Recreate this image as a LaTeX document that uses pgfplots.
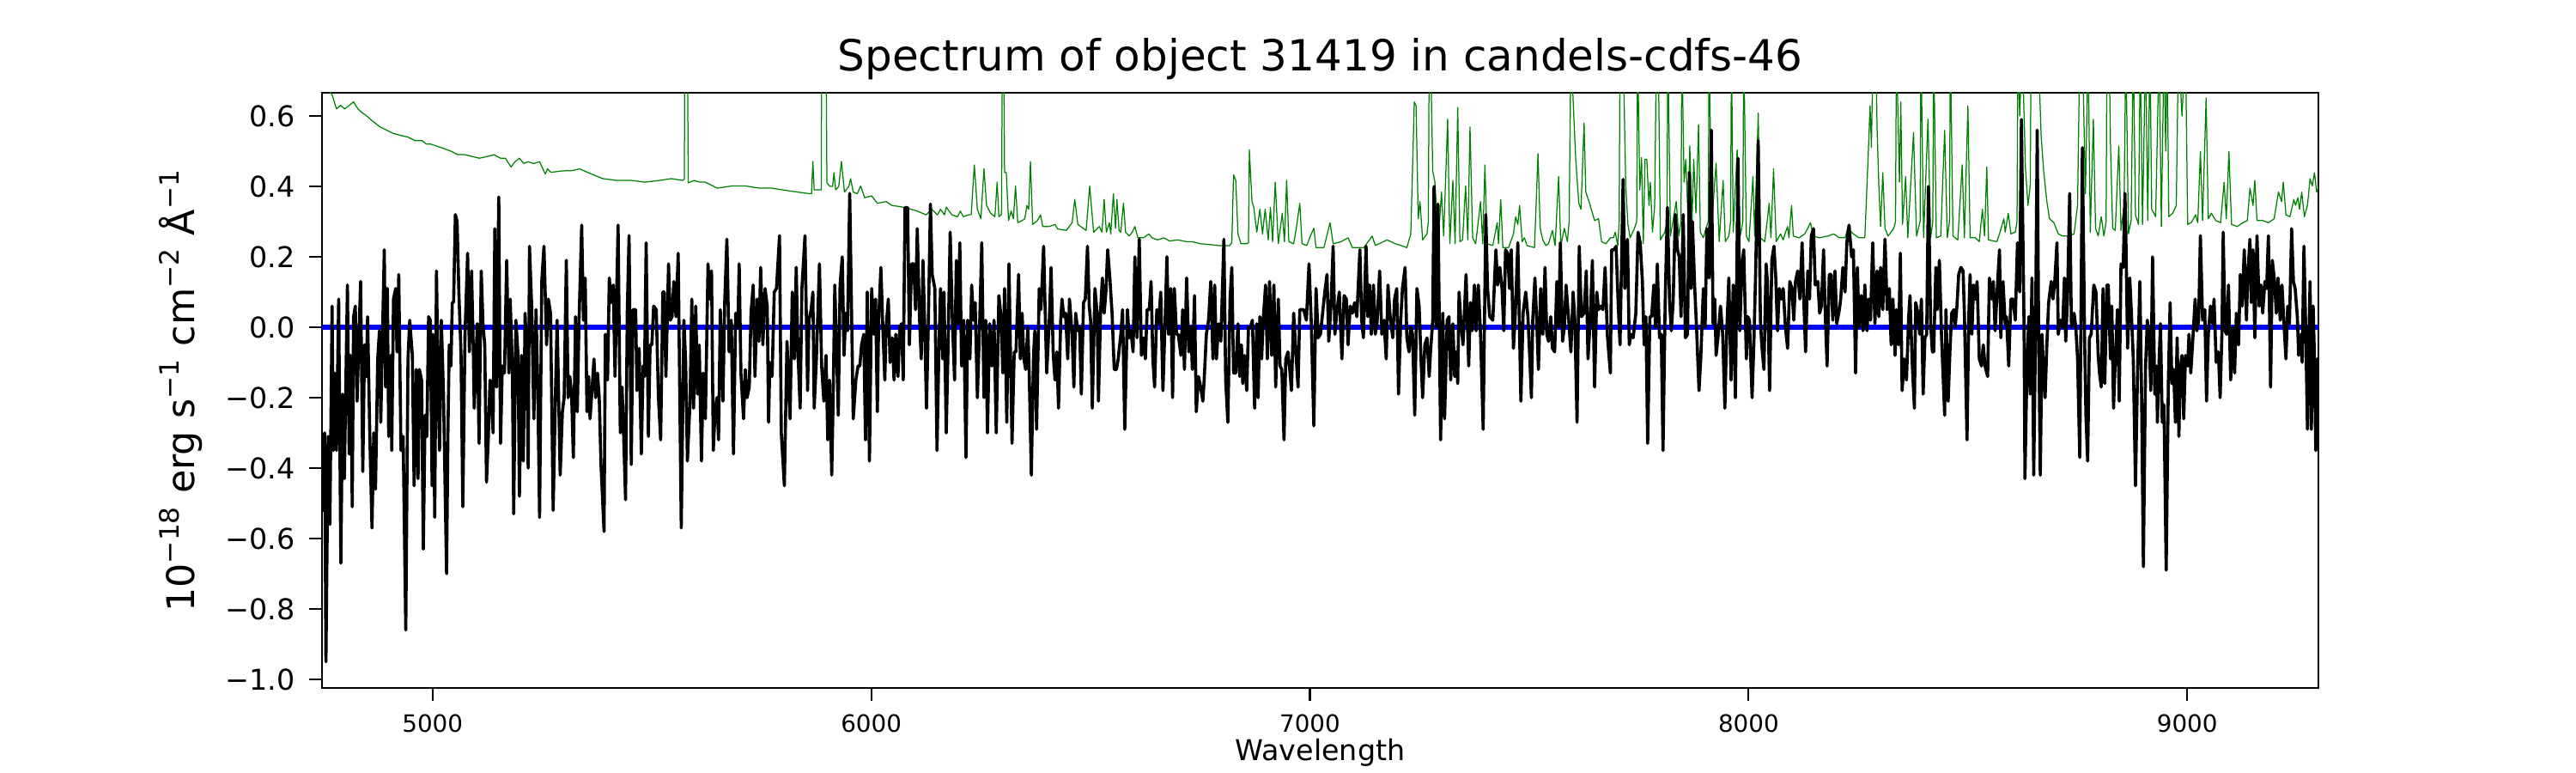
\documentclass[border=0pt]{standalone}
\usepackage{fontspec}
\setmainfont{DejaVu Sans}
\usepackage{pgfplots}
\pgfplotsset{compat=1.18}
\definecolor{mplgreen}{rgb}{0,0.5,0}
\begin{document}
\begin{tikzpicture}
\path[use as bounding box] (-135pt,-35.64pt) rectangle (945pt,288.36pt);
\begin{axis}[
 at={(0,0)}, anchor=south west,
 scale only axis, width=837pt, height=249.48pt,
 xmin=4748, xmax=9299, ymin=-1.0244, ymax=0.6659,
 axis line style={line width=0.8pt},
 tick align=outside, major tick length=5.3pt,
 xtick pos=lower, ytick pos=left,
 tick style={black, line width=0.8pt},
 xtick={5000,6000,7000,8000,9000},
 xticklabels={5000,6000,7000,8000,9000},
 ytick={-1,-0.8,-0.6,-0.4,-0.2,0,0.2,0.4,0.6},
 yticklabels={−1.0,−0.8,−0.6,−0.4,−0.2,0.0,0.2,0.4,0.6},
 xticklabel style={font=\fontsize{10}{12}\selectfont, anchor=base, inner sep=0pt, yshift=-13.1pt},
 yticklabel style={font=\fontsize{12}{14}\selectfont, anchor=east, inner sep=0pt, xshift=-5.9pt},
 every axis title/.style={at={(0.5,1)}, anchor=base, yshift=9pt, font=\fontsize{18}{22}\selectfont},
 every axis x label/.style={at={(axis description cs:0.5,0)}, anchor=base, yshift=-30.6pt, font=\fontsize{12}{14}\selectfont},
 every axis y label/.style={at={(axis description cs:-0.064,0.5)}, rotate=90, anchor=base, font=\fontsize{16}{19}\selectfont},
 title={Spectrum of object 31419 in candels-cdfs-46},
 xlabel={Wavelength},
 ylabel={10\textsuperscript{−18} erg s\textsuperscript{−1} cm\textsuperscript{−2} Å\textsuperscript{−1}},
]
% sky / noise spectrum (green)
\addplot[mplgreen, line width=0.45pt, line join=round] coordinates {
(4748,0.70)(4771,0.66)(4781,0.62)(4790,0.63)(4800,0.62)(4810,0.63)(4820,0.64)(4830,0.62)(4839,0.61)(4850,0.60)(4859,0.59)(4869,0.58)(4879,0.57)(4895,0.56)(4911,0.55)(4927,0.545)(4944,0.54)(4960,0.53)(4976,0.53)(4986,0.52)(4996,0.52)(5020,0.51)(5042,0.50)(5058,0.49)(5074,0.49)(5090,0.485)(5107,0.48)(5125,0.485)(5140,0.49)(5155,0.48)(5166,0.48)(5179,0.455)(5188,0.47)(5198,0.48)(5208,0.465)(5218,0.47)(5230,0.465)(5244,0.47)(5257,0.435)(5262,0.45)(5270,0.44)(5296,0.444)(5320,0.445)(5335,0.45)(5355,0.439)(5388,0.422)(5420,0.417)(5453,0.417)(5485,0.412)(5518,0.417)(5544,0.422)(5570,0.417)(5574,0.42)(5575,0.80)(5581,0.80)(5583,0.41)(5587,0.412)(5596,0.417)(5609,0.412)(5622,0.412)(5649,0.395)(5681,0.401)(5714,0.401)(5746,0.395)(5773,0.395)(5799,0.390)(5831,0.384)(5861,0.379)(5864,0.38)(5867,0.471)(5870,0.39)(5874,0.39)(5883,0.39)(5886,0.39)(5887,0.80)(5897,0.80)(5899,0.41)(5906,0.40)(5912,0.40)(5915,0.439)(5919,0.39)(5926,0.40)(5932,0.471)(5939,0.384)(5949,0.40)(5953,0.422)(5959,0.384)(5968,0.379)(5976,0.401)(5985,0.368)(6001,0.373)(6014,0.352)(6034,0.357)(6047,0.346)(6073,0.341)(6105,0.330)(6125,0.319)(6138,0.335)(6151,0.319)(6158,0.335)(6167,0.319)(6171,0.341)(6184,0.319)(6197,0.314)(6203,0.330)(6210,0.314)(6221,0.319)(6228,0.32)(6235,0.461)(6242,0.335)(6250,0.308)(6257,0.450)(6263,0.346)(6272,0.324)(6282,0.314)(6287,0.412)(6291,0.314)(6297,0.32)(6299,0.80)(6302,0.80)(6304,0.439)(6308,0.439)(6313,0.303)(6319,0.330)(6324,0.308)(6329,0.401)(6334,0.297)(6344,0.303)(6350,0.308)(6355,0.346)(6359,0.335)(6363,0.471)(6368,0.292)(6379,0.303)(6386,0.319)(6391,0.286)(6406,0.286)(6419,0.292)(6425,0.279)(6445,0.275)(6458,0.297)(6464,0.363)(6471,0.292)(6490,0.275)(6498,0.401)(6507,0.270)(6520,0.286)(6526,0.270)(6531,0.363)(6536,0.270)(6543,0.297)(6546,0.265)(6552,0.379)(6557,0.281)(6560,0.363)(6565,0.275)(6569,0.270)(6575,0.352)(6580,0.270)(6588,0.259)(6595,0.270)(6601,0.286)(6608,0.254)(6621,0.254)(6633,0.265)(6640,0.254)(6653,0.248)(6667,0.254)(6680,0.245)(6699,0.248)(6719,0.243)(6732,0.243)(6751,0.237)(6771,0.235)(6791,0.232)(6797,0.232)(6817,0.232)(6822,0.24)(6826,0.433)(6831,0.417)(6836,0.265)(6843,0.237)(6856,0.237)(6860,0.24)(6862,0.504)(6868,0.357)(6872,0.341)(6879,0.270)(6886,0.335)(6892,0.265)(6898,0.335)(6905,0.248)(6910,0.341)(6915,0.243)(6921,0.412)(6928,0.237)(6937,0.324)(6942,0.243)(6947,0.417)(6952,0.243)(6963,0.237)(6969,0.281)(6977,0.352)(6982,0.237)(6993,0.232)(7001,0.259)(7009,0.281)(7014,0.226)(7032,0.226)(7046,0.297)(7053,0.237)(7071,0.243)(7087,0.254)(7097,0.226)(7123,0.226)(7142,0.259)(7149,0.232)(7176,0.248)(7195,0.237)(7208,0.232)(7221,0.226)(7230,0.265)(7238,0.640)(7242,0.629)(7247,0.308)(7251,0.357)(7257,0.248)(7267,0.265)(7270,0.30)(7272,0.80)(7275,0.80)(7280,0.444)(7285,0.412)(7292,0.259)(7296,0.308)(7300,0.384)(7305,0.259)(7314,0.591)(7319,0.237)(7326,0.417)(7331,0.237)(7337,0.624)(7342,0.243)(7348,0.248)(7355,0.401)(7360,0.248)(7365,0.569)(7371,0.254)(7378,0.237)(7389,0.357)(7394,0.237)(7399,0.461)(7404,0.237)(7417,0.232)(7427,0.297)(7430,0.237)(7435,0.363)(7440,0.226)(7453,0.226)(7464,0.265)(7469,0.314)(7474,0.292)(7478,0.346)(7484,0.243)(7489,0.254)(7495,0.232)(7512,0.226)(7520,0.493)(7525,0.281)(7531,0.248)(7538,0.232)(7544,0.237)(7553,0.275)(7559,0.232)(7567,0.428)(7572,0.232)(7580,0.281)(7587,0.243)(7591,0.30)(7595,0.80)(7601,0.618)(7606,0.477)(7613,0.352)(7618,0.335)(7625,0.580)(7629,0.384)(7639,0.346)(7649,0.303)(7658,0.308)(7665,0.243)(7675,0.237)(7685,0.254)(7692,0.254)(7696,0.270)(7702,0.232)(7705,0.30)(7707,0.80)(7714,0.80)(7720,0.401)(7725,0.292)(7730,0.254)(7740,0.281)(7745,0.30)(7747,0.80)(7752,0.390)(7756,0.482)(7760,0.237)(7764,0.477)(7768,0.477)(7773,0.346)(7776,0.412)(7781,0.270)(7786,0.346)(7790,0.80)(7794,0.80)(7799,0.248)(7809,0.270)(7814,0.30)(7816,0.80)(7822,0.259)(7835,0.357)(7841,0.259)(7846,0.30)(7848,0.80)(7853,0.412)(7857,0.477)(7862,0.303)(7866,0.515)(7871,0.292)(7875,0.477)(7880,0.324)(7886,0.575)(7890,0.270)(7897,0.254)(7903,0.281)(7908,0.30)(7910,0.80)(7916,0.292)(7926,0.466)(7933,0.243)(7942,0.417)(7947,0.243)(7955,0.259)(7959,0.30)(7961,0.80)(7965,0.270)(7974,0.504)(7981,0.259)(7987,0.30)(7989,0.80)(7995,0.259)(8001,0.243)(8010,0.428)(8014,0.259)(8022,0.608)(8027,0.254)(8037,0.243)(8047,0.352)(8051,0.254)(8057,0.450)(8063,0.243)(8073,0.265)(8079,0.248)(8083,0.265)(8089,0.286)(8092,0.254)(8098,0.346)(8102,0.259)(8115,0.254)(8128,0.265)(8135,0.281)(8141,0.297)(8148,0.259)(8161,0.254)(8181,0.259)(8194,0.265)(8207,0.254)(8220,0.254)(8226,0.281)(8239,0.265)(8252,0.254)(8265,0.254)(8272,0.466)(8277,0.629)(8280,0.510)(8284,0.80)(8290,0.80)(8293,0.564)(8297,0.401)(8301,0.286)(8306,0.439)(8311,0.281)(8318,0.259)(8331,0.281)(8335,0.30)(8337,0.80)(8344,0.412)(8347,0.640)(8351,0.292)(8358,0.428)(8363,0.254)(8376,0.553)(8383,0.259)(8391,0.30)(8393,0.80)(8399,0.254)(8409,0.591)(8415,0.254)(8420,0.30)(8422,0.80)(8428,0.254)(8438,0.259)(8447,0.559)(8453,0.254)(8458,0.30)(8460,0.80)(8466,0.259)(8477,0.248)(8487,0.461)(8492,0.254)(8500,0.629)(8505,0.254)(8517,0.254)(8526,0.243)(8533,0.335)(8538,0.259)(8543,0.455)(8547,0.248)(8566,0.243)(8572,0.265)(8582,0.308)(8585,0.270)(8592,0.324)(8598,0.265)(8608,0.270)(8612,0.30)(8614,0.80)(8618,0.60)(8624,0.80)(8631,0.455)(8637,0.346)(8642,0.40)(8644,0.80)(8660,0.80)(8667,0.542)(8673,0.439)(8680,0.357)(8686,0.308)(8696,0.297)(8706,0.265)(8716,0.259)(8729,0.259)(8742,0.265)(8750,0.346)(8755,0.80)(8761,0.80)(8768,0.379)(8774,0.80)(8779,0.270)(8786,0.591)(8791,0.281)(8797,0.259)(8804,0.314)(8810,0.259)(8815,0.30)(8817,0.80)(8822,0.80)(8825,0.520)(8830,0.281)(8836,0.275)(8844,0.515)(8849,0.275)(8856,0.346)(8860,0.80)(8866,0.265)(8872,0.303)(8877,0.80)(8882,0.319)(8889,0.292)(8893,0.80)(8898,0.292)(8905,0.80)(8910,0.303)(8915,0.80)(8919,0.335)(8928,0.314)(8936,0.80)(8941,0.286)(8947,0.80)(8951,0.50)(8954,0.80)(8958,0.314)(8967,0.324)(8975,0.346)(8980,0.80)(8988,0.60)(8996,0.80)(9001,0.292)(9009,0.297)(9019,0.319)(9024,0.297)(9030,0.499)(9035,0.303)(9043,0.651)(9048,0.308)(9055,0.324)(9065,0.303)(9076,0.297)(9084,0.412)(9089,0.308)(9095,0.499)(9101,0.292)(9114,0.286)(9127,0.297)(9137,0.303)(9143,0.395)(9150,0.346)(9154,0.417)(9159,0.303)(9172,0.303)(9185,0.297)(9198,0.308)(9208,0.384)(9215,0.357)(9219,0.412)(9225,0.319)(9234,0.314)(9243,0.363)(9247,0.346)(9252,0.368)(9256,0.335)(9261,0.384)(9267,0.314)(9274,0.346)(9280,0.422)(9285,0.401)(9290,0.439)(9295,0.384)(9300,0.401)
};
% model (blue)
\addplot[blue, line width=1.9pt] coordinates {(4748,0) (9300,0)};
% object spectrum (black)
\addplot[black, line width=1.3pt, line join=round] coordinates {
(4748,-0.31)(4751,-0.52)(4754,-0.30)(4757,-0.95)(4762,-0.31)(4766,-0.56)(4771,0.06)(4774,-0.35)(4777,-0.13)(4781,-0.35)(4786,0.08)(4791,-0.67)(4795,-0.19)(4799,-0.43)(4802,-0.19)(4806,0.12)(4810,-0.36)(4813,-0.08)(4817,-0.51)(4820,0.03)(4824,0.06)(4828,-0.21)(4832,-0.04)(4836,0.13)(4841,-0.41)(4845,-0.05)(4849,-0.14)(4852,0.03)(4857,-0.31)(4862,-0.57)(4866,-0.30)(4870,-0.46)(4875,-0.09)(4879,-0.01)(4882,-0.27)(4885,-0.08)(4890,0.22)(4893,-0.17)(4897,0.11)(4900,-0.31)(4905,-0.08)(4907,-0.35)(4911,0.08)(4916,0.11)(4919,-0.07)(4923,0.15)(4928,-0.35)(4933,-0.31)(4939,-0.86)(4944,-0.09)(4948,0.02)(4954,-0.08)(4958,-0.45)(4963,-0.12)(4967,-0.43)(4970,-0.12)(4975,-0.15)(4979,-0.63)(4983,-0.25)(4987,-0.31)(4991,0.03)(4995,0.02)(4999,-0.45)(5001,-0.02)(5005,-0.54)(5009,0.16)(5013,-0.20)(5016,-0.35)(5020,0.02)(5025,-0.19)(5032,-0.70)(5035,-0.31)(5038,-0.05)(5042,-0.11)(5045,0.07)(5048,0.07)(5052,0.32)(5056,0.30)(5060,0.10)(5065,-0.08)(5069,-0.51)(5074,-0.02)(5080,0.21)(5084,-0.07)(5089,0.16)(5093,-0.07)(5095,-0.23)(5098,-0.13)(5102,0.01)(5106,-0.33)(5111,0.16)(5115,0.01)(5119,-0.05)(5123,-0.44)(5127,-0.32)(5131,-0.15)(5134,-0.18)(5138,-0.30)(5142,0.28)(5146,-0.17)(5151,0.37)(5155,-0.33)(5159,-0.11)(5164,-0.13)(5169,0.19)(5174,-0.13)(5177,0.08)(5182,-0.11)(5185,-0.53)(5190,0.02)(5195,-0.08)(5198,-0.48)(5203,-0.08)(5207,-0.38)(5211,0.04)(5215,-0.09)(5218,-0.40)(5221,0.23)(5226,0.06)(5231,-0.26)(5236,0.05)(5240,-0.18)(5244,-0.54)(5249,0.13)(5254,0.23)
(5260,-0.05)(5264,0.08)(5269,0.04)(5275,-0.52)(5280,-0.20)(5284,0.02)(5291,-0.42)(5296,-0.24)(5300,-0.20)(5305,0.19)(5309,-0.20)(5313,-0.14)(5317,-0.19)(5321,-0.37)(5326,0.03)(5330,-0.24)(5334,0.02)(5340,0.29)(5344,0.02)(5348,0.14)(5352,-0.24)(5356,-0.14)(5359,-0.26)(5363,-0.19)(5368,-0.09)(5372,-0.20)(5376,-0.13)(5380,-0.20)(5384,-0.39)(5391,-0.58)(5394,-0.02)(5399,-0.15)(5403,0.14)(5407,0.07)(5412,0.12)(5416,-0.14)(5420,0.11)(5423,0.29)(5428,-0.30)(5432,-0.17)(5435,-0.28)(5440,-0.49)(5444,0.05)(5448,0.26)(5453,-0.39)(5457,0.05)(5463,0.05)(5466,-0.18)(5471,-0.06)(5476,-0.36)(5480,-0.11)(5483,-0.14)(5487,0.24)(5492,-0.31)(5496,-0.05)(5500,-0.05)(5504,0.06)(5510,0.05)(5515,-0.20)(5520,-0.32)(5525,0.10)(5528,0.10)(5532,-0.14)(5538,0.18)(5542,0.02)(5546,0.03)(5550,0.13)(5555,0.03)(5560,0.21)(5567,-0.57)(5573,0.02)(5577,-0.10)(5581,-0.38)(5587,-0.21)(5591,0.08)(5595,-0.23)(5600,0.06)(5604,-0.19)(5608,-0.05)(5613,-0.38)(5617,-0.13)(5622,-0.26)(5628,0.18)(5632,0.08)(5636,0.16)(5640,-0.35)(5644,-0.24)(5648,-0.20)(5652,-0.32)(5656,0.05)(5662,-0.21)(5666,0.07)(5671,0.25)(5676,-0.07)(5681,0.02)(5686,-0.36)(5691,0.04)(5696,0.00)(5699,0.18)(5703,-0.13)(5709,-0.26)(5713,-0.12)(5717,-0.20)(5722,-0.17)(5726,0.04)(5731,0.12)(5735,-0.14)(5740,0.08)(5744,-0.04)(5748,0.17)(5753,-0.05)(5758,0.11)(5763,0.06)
(5766,-0.27)(5769,-0.10)(5774,-0.14)(5779,0.10)(5784,0.11)(5791,0.26)(5795,-0.30)(5802,-0.45)(5808,-0.04)(5815,-0.26)(5820,0.10)(5825,-0.09)(5829,0.17)(5833,-0.07)(5838,-0.23)(5842,0.11)(5849,0.26)(5855,-0.18)(5858,0.02)(5863,0.05)(5867,0.10)(5870,-0.23)(5875,-0.09)(5882,0.18)(5887,-0.11)(5892,-0.21)(5897,-0.08)(5901,-0.32)(5905,-0.15)(5910,-0.42)(5913,-0.22)(5917,0.12)(5925,-0.25)(5929,0.12)(5934,0.20)(5938,-0.08)(5942,0.04)(5946,-0.01)(5951,0.38)(5955,0.06)(5959,-0.26)(5965,-0.15)(5970,-0.11)(5974,-0.11)(5978,-0.05)(5983,-0.02)(5987,-0.32)(5991,0.10)(5996,-0.38)(6001,0.11)(6006,-0.02)(6010,0.08)(6014,-0.24)(6017,0.02)(6022,0.17)(6027,-0.02)(6031,-0.15)(6034,0.00)(6039,0.08)(6043,-0.10)(6048,-0.03)(6052,-0.15)(6056,-0.02)(6061,-0.14)(6065,0.00)(6069,0.01)(6073,-0.15)(6077,0.34)(6083,0.34)(6087,-0.05)(6092,0.18)(6097,0.18)(6101,0.05)(6105,0.28)(6110,0.03)(6114,-0.09)(6118,0.19)(6122,0.00)(6126,-0.23)(6130,0.00)(6135,0.35)(6139,0.15)(6145,0.11)(6150,-0.35)(6154,-0.08)(6158,0.11)(6163,-0.09)(6166,0.10)(6171,-0.30)(6175,-0.07)(6180,0.27)(6185,0.02)(6190,-0.15)(6194,0.19)(6198,0.01)(6202,0.24)(6206,-0.11)(6211,0.02)(6216,-0.37)(6220,0.02)(6225,-0.09)(6229,0.12)(6233,0.02)(6237,0.07)(6242,-0.20)(6247,0.00)(6252,0.24)(6257,-0.20)(6261,0.02)(6265,-0.30)(6270,0.01)
(6275,-0.11)(6280,0.02)(6285,-0.30)(6291,0.09)(6296,0.03)(6300,-0.13)(6304,0.11)(6309,-0.27)(6314,0.18)(6321,-0.33)(6326,-0.07)(6330,-0.07)(6336,0.15)(6340,-0.09)(6344,0.04)(6348,-0.09)(6352,-0.12)(6357,0.00)(6360,-0.12)(6365,-0.42)(6370,-0.08)(6373,-0.01)(6377,-0.29)(6383,0.11)(6387,0.05)(6393,0.23)(6400,-0.13)(6406,0.02)(6410,0.17)(6415,-0.08)(6419,-0.15)(6423,-0.07)(6427,-0.23)(6432,0.02)(6435,0.08)(6439,0.03)(6443,0.04)(6448,-0.09)(6452,0.08)(6458,-0.02)(6462,-0.17)(6466,0.04)(6471,-0.01)(6475,0.00)(6479,-0.19)(6484,0.07)(6488,0.08)(6493,0.23)(6497,0.06)(6500,0.02)(6504,-0.23)(6510,0.11)(6515,0.04)(6518,-0.21)(6523,0.05)(6527,0.14)(6531,0.04)(6535,0.10)(6539,0.22)(6544,0.14)(6549,0.04)(6554,-0.12)(6559,-0.12)(6563,-0.09)(6569,-0.02)(6573,0.05)(6578,-0.29)(6584,0.05)(6588,-0.03)(6592,-0.01)(6597,-0.07)(6601,0.20)(6606,-0.03)(6611,0.25)(6616,-0.08)(6621,-0.03)(6625,-0.09)(6629,0.05)(6634,0.05)(6638,0.13)(6642,-0.09)(6646,-0.17)(6651,0.05)(6655,0.01)(6660,0.10)(6665,-0.18)(6670,0.02)(6674,0.20)(6678,-0.02)(6683,0.11)(6687,-0.20)(6691,0.11)(6696,-0.02)(6700,-0.02)(6706,-0.08)(6710,0.05)(6714,-0.12)(6719,0.14)(6724,-0.07)(6729,0.00)(6732,-0.12)(6737,0.09)(6741,-0.24)(6746,-0.14)(6751,-0.17)(6756,-0.21)(6759,-0.15)(6764,-0.02)(6769,0.02)(6774,0.13)(6779,-0.09)(6783,0.12)
(6787,-0.09)(6792,0.01)(6797,-0.04)(6804,0.25)(6808,-0.15)(6813,-0.27)(6818,0.08)(6822,0.17)(6826,-0.13)(6831,-0.13)(6836,0.01)(6840,-0.14)(6844,-0.05)(6847,-0.16)(6851,-0.08)(6856,-0.18)(6860,0.00)(6864,0.00)(6869,0.02)(6874,-0.23)(6879,0.01)(6882,-0.20)(6886,0.03)(6890,-0.09)(6894,0.03)(6899,0.12)(6903,-0.09)(6908,0.13)(6913,-0.08)(6918,0.12)(6922,-0.17)(6928,0.08)(6932,-0.11)(6936,-0.12)(6941,-0.32)(6945,-0.09)(6950,-0.07)(6954,-0.12)(6958,-0.18)(6963,0.04)(6968,-0.07)(6973,-0.17)(6977,0.05)(6982,0.05)(6986,0.05)(6992,0.02)(6998,0.18)(7003,0.02)(7009,-0.28)(7014,0.11)(7019,-0.03)(7024,-0.02)(7029,0.04)(7034,0.10)(7039,0.15)(7043,-0.04)(7048,0.06)(7053,0.23)(7057,-0.02)(7061,0.04)(7067,0.10)(7073,-0.09)(7078,0.09)(7083,0.08)(7087,-0.05)(7092,0.06)(7097,0.04)(7102,0.07)(7107,0.03)(7114,0.22)(7118,0.02)(7122,-0.03)(7128,0.23)(7132,0.03)(7136,0.12)(7140,-0.02)(7145,0.12)(7149,-0.02)(7153,0.01)(7159,0.16)(7164,-0.02)(7169,0.02)(7174,-0.09)(7178,0.12)(7183,0.03)(7189,-0.03)(7193,0.08)(7198,0.11)(7202,-0.19)(7207,0.02)(7211,0.11)(7217,0.17)(7221,-0.03)(7226,-0.07)(7230,0.00)(7234,-0.02)(7239,-0.25)(7244,0.11)(7249,0.06)(7253,-0.08)(7257,-0.20)(7262,-0.05)(7267,-0.03)(7272,-0.14)(7275,-0.07)(7280,0.02)(7283,0.40)(7288,0.00)(7292,0.35)
(7298,-0.32)(7303,0.04)(7307,-0.26)(7313,0.02)(7317,0.03)(7321,-0.15)(7326,0.01)(7330,-0.14)(7333,-0.07)(7337,-0.16)(7340,0.10)(7344,0.02)(7349,-0.05)(7356,0.15)(7362,-0.11)(7366,0.07)(7370,-0.01)(7375,0.12)(7379,-0.01)(7384,0.12)(7389,-0.02)(7395,-0.29)(7401,0.32)(7405,0.11)(7410,0.03)(7417,0.02)(7424,0.22)(7428,0.12)(7433,0.17)(7438,0.11)(7442,-0.01)(7446,0.22)(7451,0.21)(7455,0.11)(7459,0.22)(7464,-0.06)(7468,0.03)(7474,0.24)(7481,-0.21)(7486,0.04)(7492,0.10)(7497,0.03)(7501,-0.08)(7505,-0.20)(7508,0.02)(7513,0.14)(7517,0.02)(7521,-0.12)(7526,0.11)(7531,-0.02)(7536,0.17)(7540,-0.02)(7544,-0.04)(7549,0.03)(7553,-0.06)(7558,-0.07)(7563,0.13)(7567,0.00)(7571,0.24)(7576,-0.04)(7580,0.00)(7584,0.12)(7590,0.02)(7595,-0.07)(7600,0.10)(7604,0.02)(7609,-0.27)(7614,0.23)(7619,0.03)(7625,0.04)(7630,0.16)(7634,-0.09)(7639,0.02)(7644,0.19)(7649,-0.17)(7654,0.10)(7658,0.05)(7663,0.06)(7668,0.05)(7673,0.17)(7678,-0.02)(7685,-0.13)(7688,0.22)(7693,0.22)(7698,0.23)(7703,0.06)(7707,-0.05)(7714,0.42)(7718,0.11)(7724,0.25)(7728,-0.05)(7732,-0.02)(7737,-0.03)(7743,0.04)(7748,0.27)(7753,0.24)(7758,0.13)(7762,-0.05)(7766,0.03)(7770,-0.33)(7775,0.03)(7779,0.03)(7784,0.12)(7788,0.00)(7792,0.18)(7797,-0.03)(7801,-0.02)(7805,-0.35)
(7810,0.08)(7815,0.34)(7820,0.07)(7824,-0.01)(7828,0.07)(7833,0.32)(7838,0.22)(7842,0.20)(7846,0.03)(7851,0.32)(7856,-0.03)(7861,-0.02)(7865,0.44)(7869,0.11)(7872,0.30)(7877,0.12)(7882,-0.02)(7887,-0.18)(7891,-0.09)(7897,0.11)(7901,0.00)(7905,0.28)(7910,0.14)(7915,0.56)(7919,0.01)(7923,0.08)(7926,-0.08)(7931,-0.02)(7936,0.06)(7941,-0.02)(7946,-0.23)(7950,-0.02)(7955,0.14)(7960,-0.15)(7965,0.12)(7970,-0.20)(7976,0.48)(7980,-0.01)(7985,0.18)(7989,0.22)(7995,-0.09)(7998,0.03)(8002,0.02)(8008,-0.20)(8012,-0.05)(8016,0.15)(8022,0.53)(8027,0.02)(8030,-0.05)(8035,-0.12)(8040,0.18)(8043,0.13)(8048,-0.18)(8053,0.19)(8058,0.23)(8062,0.14)(8066,-0.01)(8070,0.11)(8075,0.08)(8079,0.11)(8084,0.00)(8089,-0.06)(8094,0.13)(8099,0.11)(8103,0.02)(8107,0.13)(8112,0.16)(8117,0.08)(8122,0.24)(8126,0.07)(8130,-0.07)(8135,0.16)(8139,0.08)(8143,0.26)(8148,0.28)(8152,0.12)(8158,0.13)(8162,0.04)(8166,0.06)(8171,0.22)(8175,0.03)(8179,-0.11)(8184,0.15)(8188,0.15)(8192,0.02)(8197,0.16)(8201,0.01)(8207,0.05)(8210,0.08)(8215,0.17)(8220,0.10)(8224,0.24)(8229,0.29)(8235,0.20)(8239,0.22)(8244,-0.13)(8248,0.17)(8252,0.00)(8257,0.09)(8261,-0.01)(8265,0.12)(8270,-0.01)(8274,0.08)(8278,0.02)(8283,0.24)(8288,0.01)(8293,0.16)(8297,0.03)(8301,0.17)(8306,0.05)(8311,0.25)
(8316,0.05)(8321,0.11)(8325,-0.05)(8329,0.08)(8334,-0.08)(8337,0.05)(8342,-0.05)(8346,0.21)(8350,-0.18)(8355,-0.09)(8360,-0.15)(8365,0.03)(8368,0.09)(8373,-0.10)(8378,-0.23)(8381,0.07)(8386,0.04)(8390,-0.02)(8394,0.08)(8398,-0.19)(8402,-0.03)(8406,-0.02)(8410,0.40)(8415,0.01)(8419,-0.07)(8422,-0.07)(8427,0.17)(8430,0.05)(8435,0.19)(8440,-0.03)(8447,-0.25)(8450,0.05)(8455,-0.21)(8459,-0.07)(8463,0.04)(8468,0.05)(8471,0.00)(8475,0.06)(8479,0.15)(8484,0.17)(8489,0.16)(8492,0.04)(8498,-0.32)(8502,0.03)(8505,0.15)(8509,-0.02)(8513,0.12)(8517,0.08)(8521,0.13)(8526,-0.09)(8531,-0.11)(8535,-0.05)(8539,-0.11)(8545,-0.14)(8549,0.14)(8554,0.08)(8558,0.13)(8562,-0.01)(8567,0.11)(8572,0.22)(8575,-0.03)(8580,0.13)(8585,0.01)(8588,0.03)(8593,-0.11)(8598,0.08)(8603,0.08)(8608,0.02)(8613,0.24)(8618,0.10)(8622,0.59)(8628,0.00)(8630,-0.43)(8635,-0.09)(8639,0.03)(8642,-0.19)(8646,0.14)(8650,-0.42)(8654,-0.03)(8658,0.56)(8661,0.03)(8665,-0.42)(8669,-0.02)(8672,-0.11)(8676,-0.20)(8680,-0.05)(8684,0.07)(8690,0.13)(8694,0.08)(8698,0.13)(8703,0.24)(8706,-0.02)(8711,0.02)(8716,0.00)(8720,0.14)(8723,-0.04)(8727,0.08)(8732,0.38)(8736,0.00)(8742,0.04)(8746,0.00)(8750,-0.09)(8755,-0.37)(8761,0.51)(8766,-0.03)(8769,-0.25)(8773,-0.38)(8777,-0.03)(8781,-0.02)(8787,0.12)(8792,0.10)(8797,-0.08)(8800,-0.13)(8804,-0.17)(8808,0.11)(8812,-0.16)(8817,0.12)
(8820,0.12)(8825,-0.09)(8828,0.06)(8832,-0.23)(8836,-0.09)(8841,0.05)(8845,-0.21)(8849,0.18)(8854,0.17)(8858,0.38)(8860,0.27)(8864,-0.06)(8869,0.14)(8872,0.06)(8877,-0.09)(8882,-0.45)(8887,-0.11)(8892,0.13)(8896,-0.20)(8900,-0.68)(8905,-0.11)(8909,0.02)(8913,-0.03)(8917,-0.18)(8921,0.20)(8926,-0.19)(8930,-0.11)(8932,-0.27)(8936,-0.09)(8939,0.01)(8943,-0.27)(8947,-0.22)(8952,-0.69)(8957,-0.15)(8961,0.07)(8965,-0.16)(8969,-0.12)(8973,-0.27)(8977,-0.03)(8981,-0.31)(8984,-0.12)(8988,-0.08)(8992,-0.26)(8996,-0.08)(9001,-0.11)(9004,-0.02)(9008,-0.13)(9012,-0.05)(9018,0.08)(9022,-0.01)(9026,0.02)(9030,0.26)(9035,0.02)(9040,0.05)(9044,-0.21)(9048,-0.02)(9053,0.06)(9058,0.01)(9061,0.08)(9066,-0.10)(9071,-0.07)(9075,-0.20)(9079,-0.02)(9082,0.27)(9086,-0.01)(9090,-0.02)(9094,0.12)(9099,-0.15)(9104,0.00)(9108,-0.13)(9112,0.04)(9117,-0.05)(9121,0.15)(9125,0.06)(9130,0.22)(9135,0.02)(9138,0.15)(9143,0.25)(9146,0.07)(9150,0.22)(9154,-0.03)(9159,0.26)(9164,0.06)(9168,0.12)(9172,0.04)(9177,0.13)(9181,0.11)(9185,0.26)(9190,-0.17)(9194,0.19)(9199,0.13)(9203,0.04)(9207,0.14)(9212,0.02)(9216,0.12)(9220,0.02)(9225,-0.09)(9229,0.06)(9233,0.01)(9238,0.28)(9242,0.13)(9246,0.11)(9251,0.03)(9254,-0.08)(9259,-0.02)(9262,-0.10)(9266,0.23)(9270,0.00)(9274,-0.29)(9277,-0.06)(9280,0.13)(9283,-0.29)(9287,0.06)(9290,-0.09)(9293,-0.35)(9296,-0.09)(9300,-0.35)
};
\end{axis}
\end{tikzpicture}
\end{document}
